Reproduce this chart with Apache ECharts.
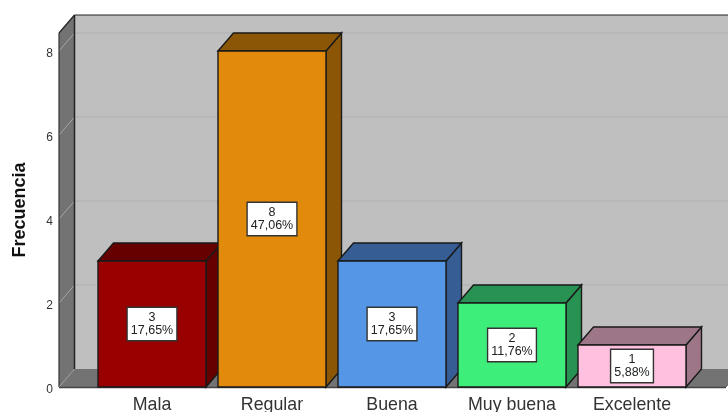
<!DOCTYPE html>
<html><head><meta charset="utf-8">
<style>html,body{margin:0;padding:0;background:#fff}#c{width:728px;height:412px}</style>
<script src="https://cdn.jsdelivr.net/npm/echarts@6/dist/echarts.min.js"></script>
</head><body><div id="c"></div>
<script>
const categories = ['Mala','Regular','Buena','Muy buena','Excelente'];
const counts = [3,8,3,2,1];
const percents = ['17,65%','47,06%','17,65%','11,76%','5,88%'];
const frontColors = ['#990000','#E28A0C','#5596E6','#3DEE7B','#FFC0E0'];
const topColors = ['#660000','#8B5706','#365E94','#279251','#9D7788'];
const sideColors = ['#660000','#8B5706','#365E94','#279251','#9D7788'];
const yTicks = [0,2,4,6,8];
const yMax = 8.43;

const DX = 15.5, DY = -18, LINE = '#1a1a1a';
const chart = echarts.init(document.getElementById('c'));
const poly = (pts, fill, stroke, lw) => ({type:'polygon', shape:{points:pts},
  style:{fill:fill, stroke:stroke||null, lineWidth:lw||0}});
const seg = (a,b,stroke,lw) => ({type:'line', shape:{x1:a[0],y1:a[1],x2:b[0],y2:b[1]},
  style:{stroke:stroke, lineWidth:lw, fill:null}});

function renderWalls(params, api){
  const cs = params.coordSys;
  const L = 59, R = 726, B = api.coord([0,0])[1], T = cs.y;
  const kids = [];
  kids.push(poly([[L+DX,T+DY],[R+DX+20,T+DY],[R+DX+20,B+DY],[L+DX,B+DY]],'#BFBFBF'));
  kids.push(poly([[L,T],[L+DX,T+DY],[L+DX,B+DY],[L,B]],'#737373'));
  kids.push(poly([[L,B],[L+DX,B+DY],[R+DX,B+DY],[R,B]],'#737373'));
  yTicks.slice(1).forEach(v=>{
    const y = Math.round(api.coord([0,v])[1]);
    kids.push(seg([L,y],[L+DX,y+DY],'#A6A6A6',1));
    kids.push(seg([L+DX,y+DY],[740,y+DY],'#B0B0B0',1.2));
  });
  kids.push(seg([L,T],[L,B],'#333',1.2));
  kids.push(seg([L,T],[L+DX,T+DY],'#222',1.2));
  kids.push(seg([L+DX,T+DY],[740,T+DY],'#222',1.2));
  kids.push(seg([L+DX,T+DY],[L+DX,B+DY],'#222',1.5));
  kids.push(seg([L,B],[L+DX,B+DY],'#999',1));
  kids.push(seg([L,B+0.5],[R,B+0.5],'#444',1.5));
  kids.push(seg([R,B],[R+DX,B+DY],'#666',1));
  return {type:'group', children:kids};
}

function renderBar(params, api){
  const i = params.dataIndex, v = api.value(1);
  const c = api.coord([i,v]), b = api.coord([i,0]);
  const w = 108, xl = Math.round(c[0]-w/2), xr = xl+w;
  const yt = Math.round(c[1]), yb = Math.round(b[1]);
  const kids = [
    poly([[xr,yt],[xr+DX,yt+DY],[xr+DX,yb+DY],[xr,yb]], sideColors[i], LINE, 1.4),
    poly([[xl,yt],[xl+DX,yt+DY],[xr+DX,yt+DY],[xr,yt]], topColors[i], LINE, 1.4),
    {type:'rect', shape:{x:xl,y:yt,width:w,height:yb-yt},
     style:{fill:frontColors[i], stroke:LINE, lineWidth:1.4}},
    {type:'text', x:(xl+xr)/2, y:(yt+yb)/2, style:{
      text:counts[i]+'\n'+percents[i], fontFamily:'"Liberation Sans",Arial,sans-serif',
      fontSize:12.5, lineHeight:13, fill:'#222', align:'center', verticalAlign:'middle',
      backgroundColor:'#fff', borderColor:'#333', borderWidth:1.4, padding:[3,3,3,3]}}
  ];
  return {type:'group', children:kids};
}

chart.setOption({
  animation:false,
  backgroundColor:'#fff',
  grid:{left:92, width:600, top:33, height:354, outerBoundsMode:'none'},
  xAxis:{type:'category', data:categories, boundaryGap:true,
    axisLine:{show:false}, axisTick:{show:false}, splitLine:{show:false},
    axisLabel:{interval:0, fontFamily:'"Liberation Sans",Arial,sans-serif', fontSize:17.8, color:'#333', margin:9}},
  yAxis:{type:'value', min:0, max:yMax, interval:2, offset:33,
    name:'Frecuencia', nameLocation:'middle', nameRotate:90, nameGap:30,
    nameTextStyle:{fontFamily:'"Liberation Sans",Arial,sans-serif', fontSize:18, fontWeight:'bold', color:'#111'},
    axisLine:{show:false}, axisTick:{show:false}, splitLine:{show:false},
    axisLabel:{margin:6, showMaxLabel:false, formatter:'{t|{value}}',
      rich:{t:{fontFamily:'"Liberation Sans",Arial,sans-serif', fontSize:12, color:'#333', padding:[5,0,0,0]}}}},
  series:[
    {type:'custom', clip:false, silent:true, z:1, data:[[0,0]], renderItem:renderWalls},
    {type:'custom', clip:false, silent:true, z:2, data:counts.map((v,i)=>[i,v]),
     encode:{x:0,y:1}, renderItem:renderBar}
  ]
});
</script></body></html>
